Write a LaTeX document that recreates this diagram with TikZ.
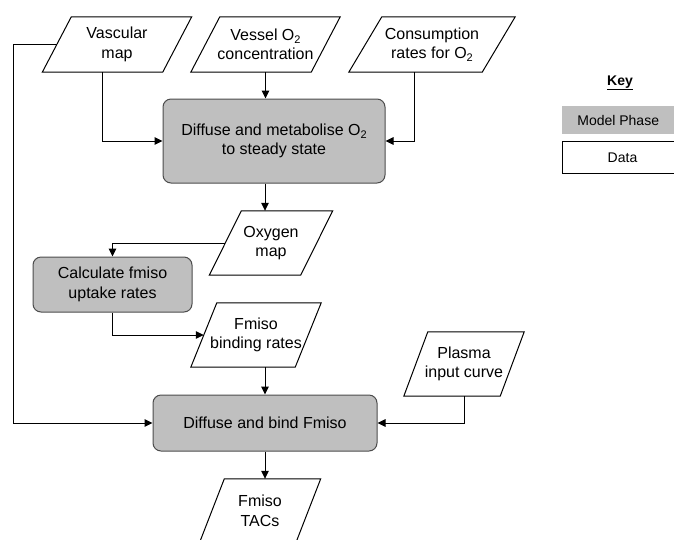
\documentclass[tikz,border=0pt]{standalone}
\usepackage{fontspec}
\setmainfont{Liberation Sans}
\usetikzlibrary{arrows.meta,calc}
\newcommand\drawpara[2]{%
  \draw[dataline] ([xshift=#2/2]#1.north west) -- ([xshift=#2/2]#1.north east)
    -- ([xshift=-#2/2]#1.south east) -- ([xshift=-#2/2]#1.south west) -- cycle;}
\newcommand\subtwo{\raisebox{-0.35ex}{\fontsize{11}{11}\selectfont 2}}
\begin{document}
\begin{tikzpicture}[x=1pt,y=-1pt,
  every node/.style={font=\fontsize{16}{19.5}\selectfont},
  datanode/.style={inner sep=0pt, align=center},
  dataline/.style={draw=black, line width=1pt, line join=miter},
  phase/.style={draw=black!70, fill=gray!50, rounded corners=8pt, line width=1pt, inner sep=0pt, align=center},
  arr/.style={draw=black, line width=1pt, -{Triangle[length=8pt,width=7.5pt]}},
  keyfont/.style={font=\fontsize{14}{17}\selectfont}]
\useasboundingbox (0,0) rectangle (674,539);
\clip (0,0) rectangle (674,539);
% data nodes
\node[datanode, minimum width=120pt, minimum height=55pt] (vm) at (117,44.5) {Vascular\\map};
\node[datanode, minimum width=120pt, minimum height=55pt] (vo) at (265.5,44.5) {Vessel O\subtwo\\concentration};
\node[datanode, minimum width=133pt, minimum height=55pt] (cr) at (432,44.5) {Consumption\\rates for O\subtwo};
\node[datanode, minimum width=91pt, minimum height=64pt] (om) at (271,243) {Oxygen\\map};
\node[datanode, minimum width=104pt, minimum height=64pt] (fb) at (256,335) {Fmiso\\binding rates};
\node[datanode, minimum width=96pt, minimum height=64pt] (pl) at (464,364) {Plasma\\input curve};
\node[datanode, minimum width=96pt, minimum height=64pt] (tac) at (260,511) {Fmiso\\TACs};
\drawpara{vm}{29}
\drawpara{vo}{29}
\drawpara{cr}{33}
\drawpara{om}{32}
\drawpara{fb}{26}
\drawpara{pl}{24}
\drawpara{tac}{25}
% phase nodes
\node[phase, minimum width=222pt, minimum height=84pt] (b1) at (274,141) {Diffuse and metabolise O\subtwo\\to steady state};
\node[phase, minimum width=159pt, minimum height=55pt] (calc) at (112.5,284.5) {Calculate fmiso\\uptake rates};
\node[phase, minimum width=224pt, minimum height=56pt] (b2) at (265,423) {Diffuse and bind Fmiso};
% connectors
\coordinate (lft) at (13,0);
\draw[arr] ([xshift=-15pt]vm.south) |- (b1.west);
\draw[arr] (vo.south) -- (vo.south |- b1.north);
\draw[arr] ([xshift=-18pt]cr.south) |- (b1.east);
\draw[arr] (b1.south -| b2.north) -- (om.north -| b2.north);
\draw[arr] (om.west) -| (calc.north);
\draw[arr] (calc.south) |- (fb.west);
\draw[arr] (fb.south -| b2.north) -- (b2.north);
\draw[arr] (pl.south) |- (b2.east);
\draw[arr] (vm.west) -- (vm.west -| lft) |- (b2.west);
\draw[arr] (b2.south) -- (tac.north -| b2.south);
% key
\node[keyfont, font=\fontsize{14}{17}\selectfont\bfseries] (key) at (620,83) {\underline{Key}};
\node[keyfont, fill=gray!50, minimum width=112pt, minimum height=28pt, anchor=north west, inner sep=0pt] (mp) at (562,106) {Model Phase};
\node[keyfont, draw=black, line width=1pt, minimum width=120pt, minimum height=32pt, anchor=north west, inner sep=0pt] (dk) at (562,141) {Data};
\end{tikzpicture}
\end{document}
